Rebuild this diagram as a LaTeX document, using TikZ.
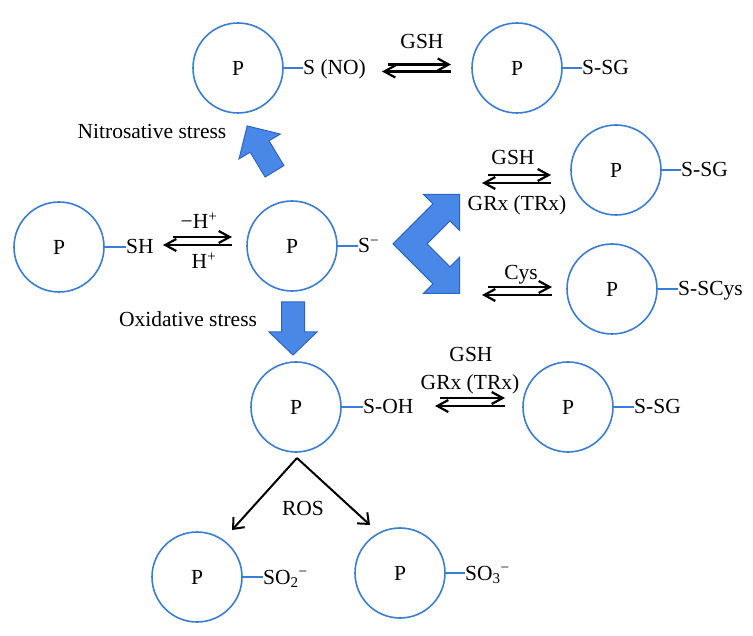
\documentclass[tikz,border=0pt]{standalone}
\usepackage{fontspec}
\setmainfont{Liberation Serif}
\usetikzlibrary{arrows.meta}
\definecolor{circ}{RGB}{58,125,215}
\definecolor{bfill}{RGB}{74,136,232}
\definecolor{bdraw}{RGB}{45,100,195}
\begin{document}
\begin{tikzpicture}[x=1pt,y=-1pt,font=\fontsize{21.5}{25}\selectfont,
  prot/.style={circle,draw=circ,line width=1.6pt,minimum size=90pt,inner sep=0pt},
  lbl/.style={inner sep=0pt,text height=14pt,text depth=0pt},
  stub/.style={draw=circ,line width=1.6pt},
  eqarrow/.style={line width=2.2pt,-{Straight Barb[length=11pt,width=12pt]}},
  rosarrow/.style={line width=2pt,-{Straight Barb[length=9pt,width=15pt]}},
  blockarrow/.style={fill=bfill,draw=bdraw,line width=1pt,line join=miter}]
\useasboundingbox (0,0) rectangle (753,636);
% proteins
\node[prot] (c1) at (238,68) {P};
\node[prot] (c2) at (517,68) {P};
\node[prot] (c3) at (616,170) {P};
\node[prot] (c4) at (612,289) {P};
\node[prot] (c5) at (59,247) {P};
\node[prot] (c6) at (292,246) {P};
\node[prot] (c7) at (296,407) {P};
\node[prot] (c8) at (568,407) {P};
\node[prot] (c9) at (197,577) {P};
\node[prot] (c10) at (400,573) {P};
% group labels
\node[lbl,anchor=west] (t1) at (303,68) {S (NO)};
\node[lbl,anchor=west] (t2) at (582,68) {S-SG};
\node[lbl,anchor=west] (t3) at (681,170) {S-SG};
\node[lbl,anchor=west] (t4) at (678,289) {S-SCys};
\node[lbl,anchor=west] (t5) at (126,247) {SH};
\node[lbl,anchor=west] (t6) at (358,246) {S\textsuperscript{−}};
\node[lbl,anchor=west] (t7) at (363,407) {S-OH};
\node[lbl,anchor=west] (t8) at (634,407) {S-SG};
\node[lbl,anchor=west] (t9) at (263,577) {SO\textsubscript{2}\textsuperscript{−}};
\node[lbl,anchor=west] (t10) at (465,573) {SO\textsubscript{3}\textsuperscript{−}};
\foreach \i in {1,...,10} {\draw[stub] (c\i.east) -- (t\i.west);}
% reagent labels
\node[lbl] (gsh1) at (422,42) {GSH};
\node[lbl] (mh) at (199,222) {−H\textsuperscript{+}};
\node[lbl] (ph) at (204,262) {H\textsuperscript{+}};
\node[lbl] (gsh2) at (513,158) {GSH};
\node[lbl] (grx2) at (517,204) {GRx (TRx)};
\node[lbl] (cys) at (521,273) {Cys};
\node[lbl] (gsh3) at (471,355) {GSH};
\node[lbl] (grx3) at (470,383) {GRx (TRx)};
\node[lbl] (ros) at (303,508) {ROS};
\node[lbl] (nit) at (152,132) {Nitrosative stress};
\node[lbl] (oxi) at (188,320) {Oxidative stress};
% equilibrium arrows
\coordinate (a1s) at (388,64.5); \coordinate (a1e) at (451,64.5);
\coordinate (b1s) at (451,71.5); \coordinate (b1e) at (382,71.5);
\draw[eqarrow] (a1s) -- (a1e); \draw[eqarrow] (b1s) -- (b1e);
\coordinate (a2s) at (173,237); \coordinate (a2e) at (232,237);
\coordinate (b2s) at (232,245); \coordinate (b2e) at (163,245);
\draw[eqarrow] (a2s) -- (a2e); \draw[eqarrow] (b2s) -- (b2e);
\coordinate (a3s) at (488,175); \coordinate (a3e) at (551,175);
\coordinate (b3s) at (551,183); \coordinate (b3e) at (482,183);
\draw[eqarrow] (a3s) -- (a3e); \draw[eqarrow] (b3s) -- (b3e);
\coordinate (a4s) at (488,287); \coordinate (a4e) at (552,287);
\coordinate (b4s) at (552,295); \coordinate (b4e) at (482,295);
\draw[eqarrow] (a4s) -- (a4e); \draw[eqarrow] (b4s) -- (b4e);
\coordinate (a5s) at (440,398); \coordinate (a5e) at (505,398);
\coordinate (b5s) at (505,406); \coordinate (b5e) at (435,406);
\draw[eqarrow] (a5s) -- (a5e); \draw[eqarrow] (b5s) -- (b5e);
% ROS arrows
\coordinate (apex) at (297,458);
\coordinate (rosl) at (232,530);
\coordinate (rosr) at (370,525);
\draw[rosarrow] (apex) -- (rosl);
\draw[rosarrow] (apex) -- (rosr);
% block arrows
\draw[blockarrow] (283.9,165.6) -- (269.0,140.8) -- (280.2,134.1) -- (247.2,125.9)
  -- (239.0,158.9) -- (250.2,152.2) -- (265.1,177.0) -- cycle;
\draw[blockarrow] (281.5,302) -- (304.5,302) -- (304.5,332) -- (317,332) -- (293,355)
  -- (269,332) -- (281.5,332) -- cycle;
\draw[blockarrow] (393,243.8) -- (433,203.8) -- (423.5,194.3) -- (459.5,194.3)
  -- (459.5,230.3) -- (450,220.8) -- (427,243.8) -- (450,266.8) -- (459.5,257.3)
  -- (459.5,293.3) -- (423.5,293.3) -- (433,283.8) -- cycle;
\end{tikzpicture}
\end{document}
